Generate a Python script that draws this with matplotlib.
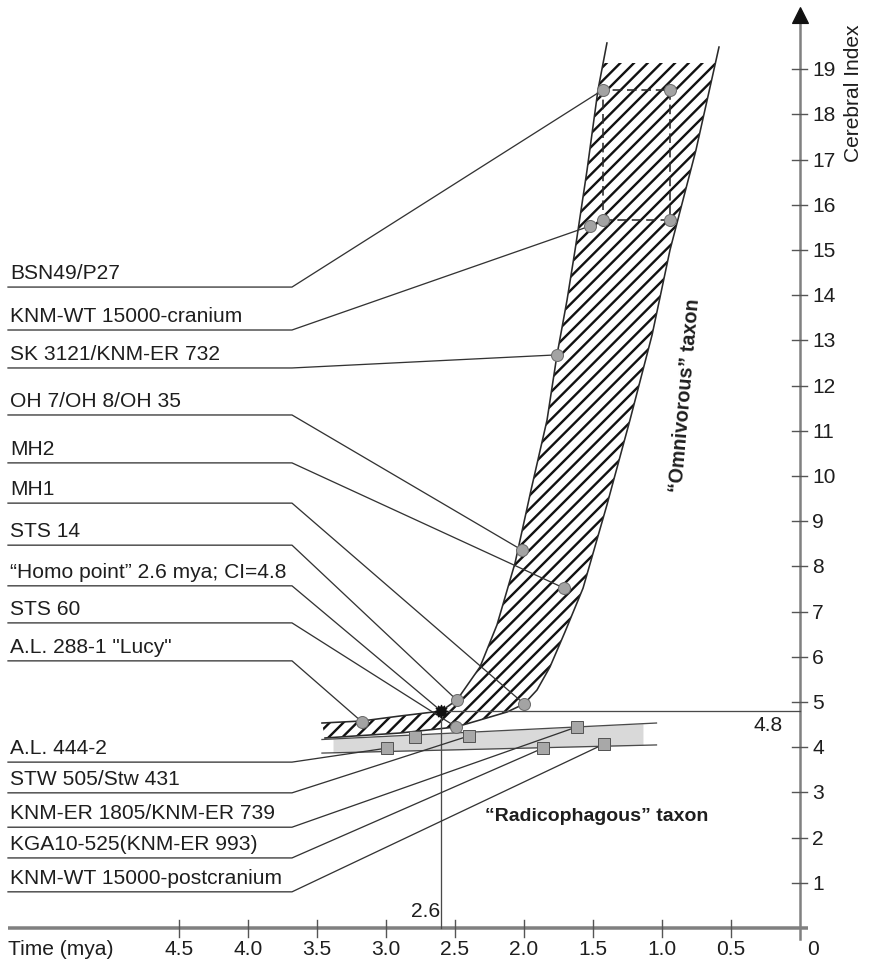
import numpy as np
import matplotlib
matplotlib.use("Agg")
import matplotlib.pyplot as plt
from matplotlib.patches import Polygon, Rectangle

plt.rcParams["font.family"] = ["Liberation Sans", "DejaVu Sans"]
plt.rcParams["hatch.linewidth"] = 2.1

# ---------------- data (time in mya, Cerebral Index) ----------------
omni_labels = ["BSN49/P27", "KNM-WT 15000-cranium", "SK 3121/KNM-ER 732",
               "OH 7/OH 8/OH 35", "MH2", "MH1", "STS 14",
               "\u201cHomo point\u201d 2.6 mya; CI=4.8", "STS 60",
               'A.L. 288-1 "Lucy"']
omni_time = [1.43, 1.522, 1.761, 2.014, 1.710, 2.000, 2.486, 2.6, 2.493, 3.174]
omni_ci = [18.54, 15.53, 12.68, 8.36, 7.52, 4.96, 5.04, 4.8, 4.45, 4.56]

box_time = [1.43, 0.94]
box_ci = [15.66, 18.54]

radi_labels = ["A.L. 444-2", "STW 505/Stw 431", "KNM-ER 1805/KNM-ER 739",
               "KGA10-525(KNM-ER 993)", "KNM-WT 15000-postcranium"]
radi_time = [2.993, 2.399, 1.616, 1.862, 1.420]
radi_ci = [3.98, 4.25, 4.45, 3.98, 4.07]
radi_extra_time = [2.79]
radi_extra_ci = [4.23]

homo_time = 2.6
homo_ci = 4.8

omni_left_time = [3.464, 3.174, 2.899, 2.6, 2.486, 2.319, 2.196, 2.065, 1.949,
                  1.833, 1.761, 1.688, 1.630, 1.543, 1.464, 1.399]
omni_left_ci = [4.535, 4.580, 4.690, 4.8, 5.044, 5.774, 6.704, 8.075, 9.690,
                11.239, 12.677, 13.894, 15.0, 16.77, 18.54, 19.58]
omni_right_time = [0.587, 0.754, 0.942, 1.072, 1.232, 1.399, 1.572, 1.703,
                   1.812, 1.906, 2.0, 2.123, 2.319, 2.493, 2.899, 3.333, 3.442]
omni_right_ci = [19.49, 17.21, 15.0, 13.12, 11.24, 9.36, 7.52, 6.55,
                 5.774, 5.265, 4.956, 4.779, 4.602, 4.447, 4.314, 4.226, 4.204]
omni_hatch_top = 19.14

radi_band_time = [3.464, 1.04]
radi_band_upper = [4.17, 4.535]
radi_band_lower = [3.87, 4.05]
radi_fill_time = [3.384, 1.138]

x_ticks = [4.5, 4.0, 3.5, 3.0, 2.5, 2.0, 1.5, 1.0, 0.5]
x_tick_labels = ["4.5", "4.0", "3.5", "3.0", "2.5", "2.0", "1.5", "1.0", "0.5"]
y_ticks = list(range(1, 20))

# label leader line heights (layout)
omni_label_ci = [14.18, 13.23, 12.39, 11.35, 10.29, 9.40, 8.47, 7.57, 6.75, 5.91]
radi_label_ci = [3.67, 2.99, 2.23, 1.55, 0.80]

# ---------------- figure ----------------
DPI = 82
W, H = 869, 962
fig = plt.figure(figsize=(W / DPI, H / DPI), dpi=DPI)
ax = fig.add_axes([0, 0, 1, 1])
ax.set_xlim(800 / 138, (800 - W) / 138)
ax.set_ylim((928 - H) / 45.2, 928 / 45.2)
ax.axis("off")

PT = 72 / DPI  # points per pixel
DX = 1 / 138   # time per pixel
DY = 1 / 45.2  # CI per pixel

TXT = "#1e1e1e"
LINE = "#333333"
FS = 21 * PT

# ---- radicophagous band ----
ft = np.array(radi_fill_time)
xs = np.linspace(ft[0], ft[1], 50)
up = np.interp(xs, radi_band_time[::-1], radi_band_upper[::-1])
lo = np.interp(xs, radi_band_time[::-1], radi_band_lower[::-1])
ax.fill_between(xs, lo, up, color="#d9d9d9", lw=0, zorder=1)
ax.plot(radi_band_time, radi_band_upper, color="#4a4a4a", lw=1.3 * PT, zorder=2)
ax.plot(radi_band_time, radi_band_lower, color="#4a4a4a", lw=1.3 * PT, zorder=2)

# ---- omnivorous band (hatched) ----
poly_t = list(omni_left_time) + list(omni_right_time)
poly_c = list(omni_left_ci) + list(omni_right_ci)
band = Polygon(np.column_stack([poly_t, poly_c]), closed=True, facecolor="none",
               edgecolor="#111111", hatch="//", lw=0, zorder=3)
ax.add_patch(band)
clip = Rectangle((-1, -1), 7, omni_hatch_top + 1, transform=ax.transData)
band.set_clip_path(clip)
ax.plot(omni_left_time, omni_left_ci, color="#2a2a2a", lw=1.6 * PT, zorder=4)
ax.plot(omni_right_time, omni_right_ci, color="#2a2a2a", lw=1.6 * PT, zorder=4)

# dashed box
bx = [box_time[0], box_time[1], box_time[1], box_time[0], box_time[0]]
by = [box_ci[0], box_ci[0], box_ci[1], box_ci[1], box_ci[0]]
ax.plot(bx, by, color="#2a2a2a", lw=1.6 * PT, dashes=(6, 3), zorder=5)

# ---- reference lines for the Homo point ----
ax.plot([homo_time, 0], [homo_ci, homo_ci], color="#4a4a4a", lw=1.3 * PT, zorder=4)
ax.plot([homo_time, homo_time], [homo_ci, 0], color="#4a4a4a", lw=1.3 * PT, zorder=4)

# ---- leader lines and labels ----
x_start = (800 - 8) / 138
x_bend = (800 - 292) / 138
x_text = (800 - 10) / 138
for lab, lc, t, c in zip(omni_labels + radi_labels, omni_label_ci + radi_label_ci,
                         omni_time + radi_time, omni_ci + radi_ci):
    ax.plot([x_start, x_bend, t], [lc, lc, c], color=LINE, lw=1.3 * PT, zorder=6)
    ax.text(x_text, lc + 8 * DY, lab, fontsize=FS, color=TXT, ha="left",
            va="baseline", zorder=10)

# ---- markers ----
circ_t = [t for i, t in enumerate(omni_time) if i != 7] + [box_time[1], box_time[0], box_time[1]]
circ_c = [c for i, c in enumerate(omni_ci) if i != 7] + [box_ci[1], box_ci[0], box_ci[0]]
ax.plot(circ_t, circ_c, "o", ms=12 * PT, mfc="#a3a3a3", mec="#6a6a6a",
        mew=1.0 * PT, zorder=8, ls="none")
ax.plot(radi_time + radi_extra_time, radi_ci + radi_extra_ci, "s", ms=12 * PT,
        mfc="#a8a8a8", mec="#555555", mew=1.0 * PT, zorder=8, ls="none")
ax.plot([homo_time], [homo_ci], marker=(12, 1, 0), ms=13 * PT, color="#111111",
        zorder=9, ls="none")
ax.plot([homo_time], [homo_ci], marker="o", ms=9 * PT, color="#111111",
        zorder=9, ls="none")

# ---- axes ----
AX = "#808080"
ax.plot([(800 - 8) / 138, -8 * DX], [0, 0],
        color=AX, lw=3.5 * PT, zorder=2, solid_capstyle="butt")
ax.plot([0, 0], [-11 * DY, 20.2], color=AX, lw=2.5 * PT, zorder=2)
ax.plot([0], [20.2], marker="^", ms=16 * PT, color="#111111", ls="none", zorder=3)
for t in x_ticks:
    ax.plot([t, t], [8 * DY, -9 * DY], color="#555555", lw=1.4 * PT, zorder=3)
for c in y_ticks:
    ax.plot([8 * DX, -7 * DX], [c, c], color="#555555", lw=1.4 * PT, zorder=3)
for t, lab in zip(x_ticks, x_tick_labels):
    ax.text(t, -27 * DY, lab, fontsize=FS, color=TXT, ha="center", va="baseline")
ax.text(-13 * DX, -27 * DY, "0", fontsize=FS, color=TXT, ha="center", va="baseline")
ax.text((800 - 8) / 138, -27 * DY, "Time (mya)", fontsize=FS, color=TXT,
        ha="left", va="baseline")
for c in y_ticks:
    ax.text(-12 * DX, c - 7 * DY, str(c), fontsize=FS, color=TXT, ha="left",
            va="baseline")
ax.text(-53 * DX, 18.47, "Cerebral Index", fontsize=21 * PT, color=TXT,
        rotation=90, ha="center", va="center")

# value annotations
ax.text(0.232, homo_ci - 0.33, "4.8", fontsize=FS, color=TXT, ha="center", va="center")
ax.text(homo_time + 0.11, 0.376, "2.6", fontsize=FS, color=TXT, ha="center", va="center")

# taxon labels
ax.text(1.471, 2.456, "\u201cRadicophagous\u201d taxon", fontsize=19.5 * PT,
        fontweight="bold", color=TXT, ha="center", va="center")
ax.text(0.833, 11.79, "\u201cOmnivorous\u201d taxon", fontsize=19.8 * PT,
        fontweight="bold", color=TXT, ha="center", va="center", rotation=85,
        rotation_mode="anchor")

fig.savefig("out.png", dpi=DPI)
